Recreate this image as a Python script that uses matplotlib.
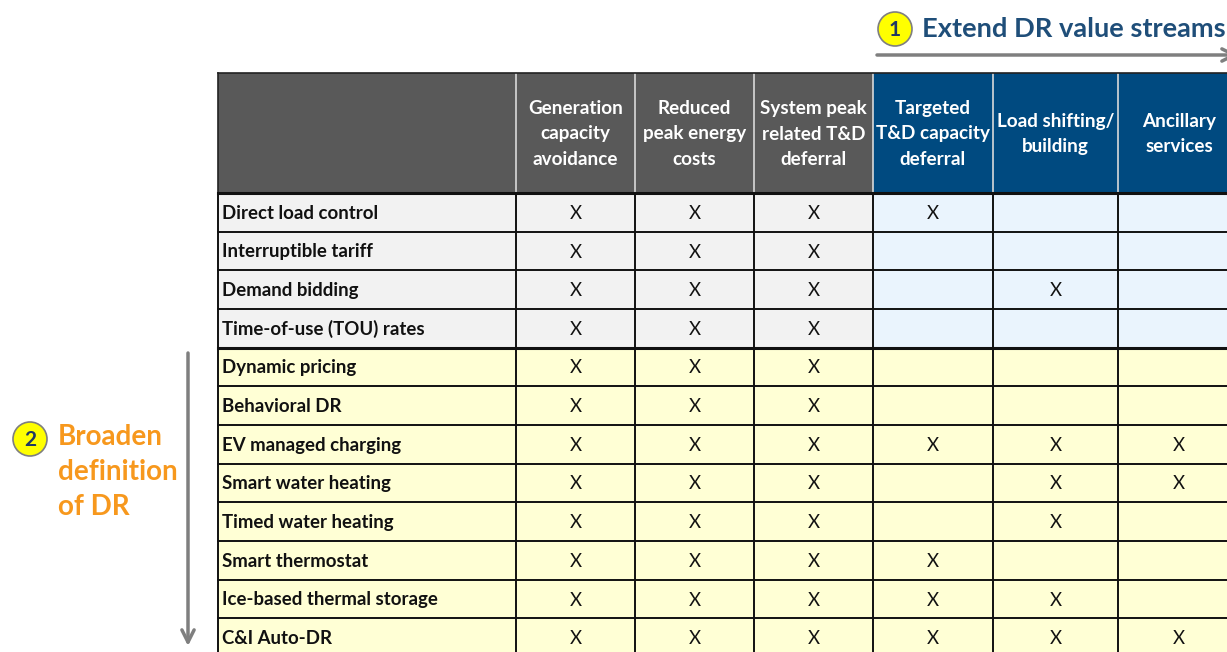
import matplotlib.pyplot as plt
from matplotlib.patches import Rectangle, Circle

# --- data ---
row_labels = ["Direct load control", "Interruptible tariff", "Demand bidding",
              "Time-of-use (TOU) rates", "Dynamic pricing", "Behavioral DR",
              "EV managed charging", "Smart water heating", "Timed water heating",
              "Smart thermostat", "Ice-based thermal storage", "C&I Auto-DR"]
col_headers = ["Generation\ncapacity\navoidance", "Reduced\npeak energy\ncosts",
               "System peak\nrelated T&D\ndeferral", "Targeted\nT&D capacity\ndeferral",
               "Load shifting/\nbuilding", "Ancillary\nservices"]
# 1 = X in the cell
marks = [
    [1, 1, 1, 1, 0, 0],
    [1, 1, 1, 0, 0, 0],
    [1, 1, 1, 0, 1, 0],
    [1, 1, 1, 0, 0, 0],
    [1, 1, 1, 0, 0, 0],
    [1, 1, 1, 0, 0, 0],
    [1, 1, 1, 1, 1, 1],
    [1, 1, 1, 0, 1, 1],
    [1, 1, 1, 0, 1, 0],
    [1, 1, 1, 1, 0, 0],
    [1, 1, 1, 1, 1, 0],
    [1, 1, 1, 1, 1, 1],
]
n_classic = 4       # rows of traditional DR
n_classic_cols = 3  # traditional value streams
broaden_lines = ["Broaden", "definition", "of DR"]

# --- layout (pixels) ---
W, H = 1227, 652
col_edges = [218, 516, 635, 754, 873, 993, 1118, 1240]
head_top, head_bot = 73, 193
row_h = (657 - head_bot) / len(row_labels)

FONT = "Lato"
GRAY_HEAD = "#595959"
BLUE_HEAD = "#004a80"
GRAY_CELL = "#f2f2f2"
BLUE_CELL = "#eaf4fd"
YELLOW_CELL = "#ffffd5"

fig = plt.figure(figsize=(W / 100, H / 100), dpi=100)
ax = fig.add_axes([0, 0, 1, 1])
ax.set_xlim(0, W)
ax.set_ylim(H, 0)
ax.axis("off")

# header
for j in range(len(col_edges) - 1):
    color = GRAY_HEAD if j <= n_classic_cols else BLUE_HEAD
    ax.add_patch(Rectangle((col_edges[j], head_top), col_edges[j + 1] - col_edges[j],
                           head_bot - head_top, facecolor=color, edgecolor="none"))
for j, txt in enumerate(col_headers):
    cx = (col_edges[j + 1] + col_edges[j + 2]) / 2
    ax.text(cx, (head_top + head_bot) / 2 + 1, txt, ha="center", va="center",
            color="white", fontsize=13.6, fontweight="bold", family=FONT,
            linespacing=1.62)
for x in col_edges[1:-1]:
    ax.plot([x, x], [head_top, head_bot], color="#d9d9d9", lw=1.2)
ax.plot([col_edges[0], col_edges[0]], [head_top, head_bot], color="#222222", lw=1.2)
ax.plot([col_edges[0], W], [head_top, head_top], color="#222222", lw=1.2)

# body cells
for i, label in enumerate(row_labels):
    y0 = head_bot + i * row_h
    for j in range(len(col_edges) - 1):
        if i < n_classic:
            fc = GRAY_CELL if j <= n_classic_cols else BLUE_CELL
        else:
            fc = YELLOW_CELL
        ax.add_patch(Rectangle((col_edges[j], y0), col_edges[j + 1] - col_edges[j],
                               row_h, facecolor=fc, edgecolor="none"))
    ax.text(col_edges[0] + 4, y0 + row_h / 2 + 1, label, ha="left", va="center",
            fontsize=13.4, fontweight="bold", family=FONT, color="#111111")
    for j, m in enumerate(marks[i]):
        if m:
            cx = (col_edges[j + 1] + col_edges[j + 2]) / 2
            ax.text(cx, y0 + row_h / 2 + 1, "X", ha="center", va="center",
                    fontsize=13.4, family=FONT, color="#111111")

# grid lines
body_bot = head_bot + len(row_labels) * row_h
for i in range(len(row_labels) + 1):
    y = head_bot + i * row_h
    lw = 2.2 if i in (0, n_classic) else 1.4
    ax.plot([col_edges[0], W], [y, y], color="#111111", lw=lw)
for x in col_edges[:-1]:
    ax.plot([x, x], [head_bot, body_bot], color="#111111", lw=1.4)

# annotation 1: extend value streams
ax.add_patch(Circle((895, 29), 17, facecolor="#ffff00", edgecolor="#7f7f7f", lw=1.2))
ax.text(895, 30, "1", ha="center", va="center", fontsize=15, fontweight="bold",
        family=FONT, color="#1f3864")
ax.text(922, 29, "Extend DR value streams", ha="left", va="center", fontsize=19.6,
        fontweight="bold", family=FONT, color="#1f4e79")
ax.annotate("", xy=(1238, 55), xytext=(877, 55), annotation_clip=False,
            arrowprops=dict(arrowstyle="->", color="#7f7f7f", lw=2.5,
                            mutation_scale=22, shrinkA=0, shrinkB=0))

# annotation 2: broaden definition
ax.add_patch(Circle((30, 439), 17, facecolor="#ffff00", edgecolor="#7f7f7f", lw=1.2))
ax.text(30, 440, "2", ha="center", va="center", fontsize=15, fontweight="bold",
        family=FONT, color="#1f3864")
for k, line in enumerate(broaden_lines):
    ax.text(58, 437 + 35 * k, line, ha="left", va="center", fontsize=20,
            fontweight="bold", family=FONT, color="#f7981d")
ax.annotate("", xy=(188, 646), xytext=(188, 353), annotation_clip=False,
            arrowprops=dict(arrowstyle="->", color="#7f7f7f", lw=2.5,
                            mutation_scale=22, shrinkA=0, shrinkB=0))

fig.savefig("out.png", dpi=100)
